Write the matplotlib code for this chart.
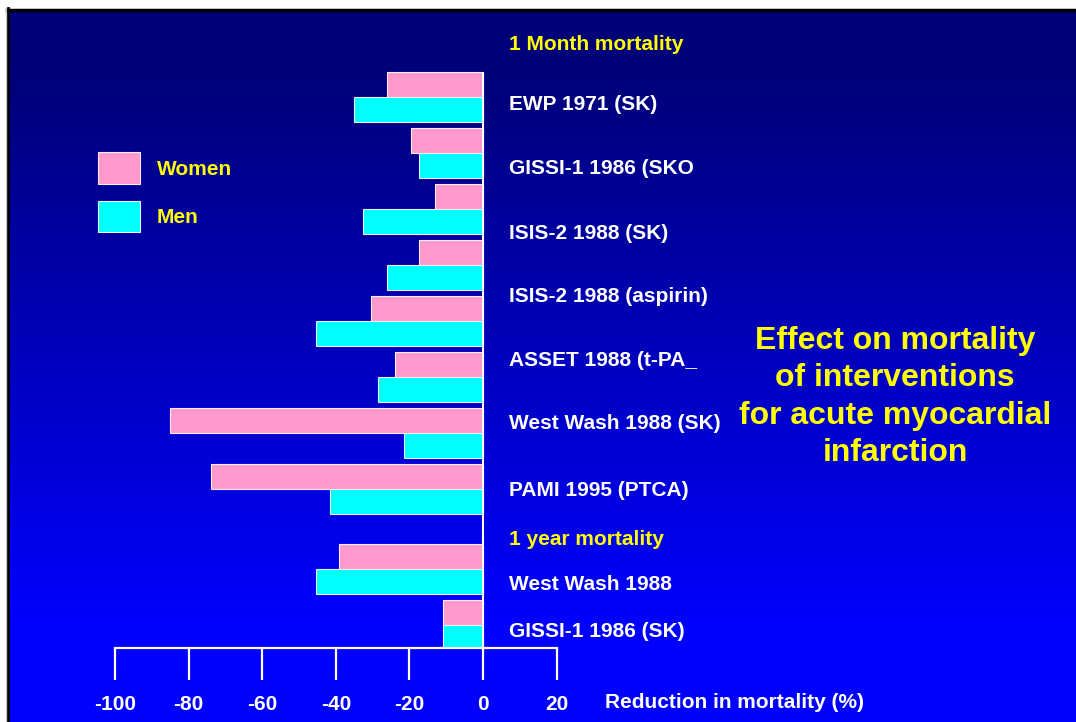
import numpy as np
import matplotlib
matplotlib.use("Agg")
from matplotlib import pyplot as plt

plt.rcParams["font.family"] = ["Liberation Sans", "DejaVu Sans"]
plt.rcParams["font.weight"] = "bold"
plt.rcParams["axes.unicode_minus"] = False

#%% data
women = [-26, -19.5, -13, -17.5, -30.5, -24, -85, -74, -39, -11]
men = [-35, -17.5, -32.5, -26, -45.5, -28.5, -21.5, -41.5, -45.5, -11]
row_labels = ["EWP 1971 (SK)", "GISSI-1 1986 (SKO", "ISIS-2 1988 (SK)",
              "ISIS-2 1988 (aspirin)", "ASSET 1988 (t-PA_", "West Wash 1988 (SK)",
              "PAMI 1995 (PTCA)", "1 year mortality", "West Wash 1988",
              "GISSI-1 1986 (SK)"]
header_label = "1 Month mortality"
xticks = [-100, -80, -60, -40, -20, 0, 20]
xlabel = "Reduction in mortality (%)"
title = "Effect on mortality\nof interventions\nfor acute myocardial\ninfarction"

#%% layout
W, H = 1076, 722
pos = np.r_[np.arange(8), np.arange(8, 10) + 0.43]
label_y = [0.125, 1.268, 2.446, 3.554, 4.714, 5.839, 7.018, 7.893, 8.714, 9.536]
bh = 0.44
pink = "#FF99CC"
cyan = "#00FFFF"
yellow = "#FFFF00"

fig = plt.figure(figsize=(W / 100, H / 100), dpi=100)

# gradient background with the slide frame
bg = fig.add_axes([0, 0, 1, 1], zorder=0)
grad = np.clip((np.arange(H) - 60) / 560.0, 0, 1)
img = np.zeros((H, 1, 3))
img[:, 0, 2] = (120 + 135 * grad) / 255.0
bg.imshow(img, aspect="auto", extent=(9, W, H, 11))
bg.plot([7, W], [9.5, 9.5], color="black", lw=2.5)
bg.plot([8, 8], [8, H], color="black", lw=2.0)
bg.plot([5.5, 5.5], [9, H], color="#c8c8c8", lw=0.8)
bg.set_xlim(0, W)
bg.set_ylim(H, 0)
bg.axis("off")

# main bar axes, mapped so 0 sits at x=483 px and -100 at x=115 px
ax = fig.add_axes([9 / W, (H - 648) / H, (W - 9) / W, (648 - 11) / H], zorder=1)
ax.set_facecolor("none")
ax.barh(pos - bh / 2, women, height=bh, color=pink, edgecolor="#eeeeff", lw=0.8,
        label="Women")
ax.barh(pos + bh / 2, men, height=bh, color=cyan, edgecolor="#eeeeff", lw=0.8,
        label="Men")
ax.set_xlim((9 - 483) / 3.68, (W - 483) / 3.68)
ax.set_ylim((648 - 97) / 56.0, (11 - 97) / 56.0)
ax.vlines(0, pos[0] - bh, ax.get_ylim()[0], color="white", lw=1.5, zorder=3)

for s in ["top", "left", "right"]:
    ax.spines[s].set_visible(False)
ax.spines["bottom"].set_color("white")
ax.spines["bottom"].set_linewidth(1.6)
ax.spines["bottom"].set_bounds(-100, 20)
ax.set_yticks([])
ax.set_xticks(xticks)
ax.set_xticklabels([str(t) for t in xticks])
ax.tick_params(axis="x", direction="out", length=23, width=1.6, color="white",
               labelcolor="white", labelsize=15, pad=10.5)

# row labels
for lab, y in zip(row_labels, label_y):
    c = yellow if "mortality" in lab else "white"
    ax.text(7, y, lab, color=c, fontsize=15, fontweight="bold", va="center", ha="left")
ax.text(7, -0.946, header_label, color=yellow, fontsize=15, fontweight="bold",
        va="center", ha="left")

fig.text(605 / W, 1 - 703 / H, xlabel, color="white", fontsize=15, fontweight="bold",
         va="center", ha="left")

fig.text(895 / W, 1 - 397 / H, title, color=yellow, fontsize=23, fontweight="bold",
         va="center", ha="center", linespacing=1.32)

ax.legend(loc="upper left", bbox_to_anchor=(88 / W, 1 - 142 / H),
          bbox_transform=fig.transFigure, frameon=False, borderpad=0,
          handlelength=2.0, handleheight=1.95, labelspacing=0.8, handletextpad=0.8,
          labelcolor=yellow, prop={"size": 15, "weight": "bold"})

plt.savefig("out.png", dpi=100)
